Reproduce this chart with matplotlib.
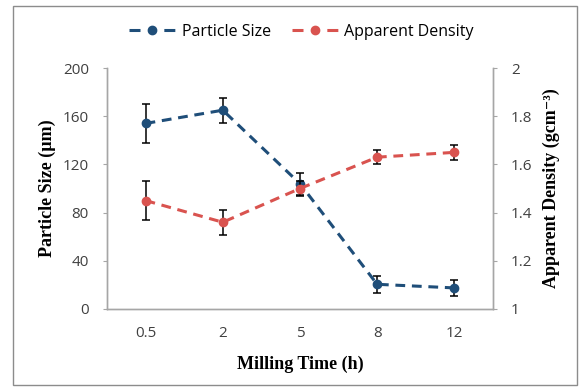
import matplotlib
matplotlib.use("Agg")
import matplotlib.pyplot as plt
from matplotlib.lines import Line2D
from matplotlib.patches import Rectangle

categories = ["0.5", "2", "5", "8", "12"]
particle_size = [154, 165, 104, 20.5, 17.5]
particle_err = [16, 10.5, 9, 7, 6.5]
density = [1.45, 1.36, 1.50, 1.63, 1.65]
density_err = [0.08, 0.052, 0.03, 0.03, 0.03]

blue = "#1F4E79"
red = "#D9534F"
axis_gray = "#A6A6A6"
sans = ["Open Sans", "DejaVu Sans"]
serif = ["Liberation Serif", "DejaVu Serif"]

fig = plt.figure(figsize=(5.83, 3.90), dpi=100)
fig.patches.append(Rectangle((0.022, 0.012), 0.968, 0.972, transform=fig.transFigure,
                             fill=False, edgecolor="#8C8C8C", linewidth=1.0))
ax = fig.add_axes([0.1835, 0.2077, 0.662, 0.6179])
ax2 = ax.twinx()

x = list(range(len(categories)))
ax.errorbar(x, particle_size, yerr=particle_err, color=blue, linestyle=(0, (3.2, 2.2)),
            linewidth=2.2, marker="o", markersize=6, ecolor="black", elinewidth=1.1,
            capsize=3, capthick=1.1, zorder=3)
ax2.errorbar(x, density, yerr=density_err, color=red, linestyle=(0, (3.2, 2.2)),
             linewidth=2.2, marker="o", markersize=6, ecolor="black", elinewidth=1.1,
             capsize=3, capthick=1.1, zorder=3)

ax.set_xlim(-0.5, len(categories) - 0.5)
ax.set_ylim(0, 200)
ax2.set_ylim(1, 2)
ax.set_xticks(x)
ax.set_xticklabels(categories)
ax.set_yticks([0, 40, 80, 120, 160, 200])
ax2.set_yticks([1, 1.2, 1.4, 1.6, 1.8, 2])
ax2.set_yticklabels(["1", "1.2", "1.4", "1.6", "1.8", "2"])

for a in (ax, ax2):
    a.spines["top"].set_visible(False)
    for s in ("left", "right", "bottom"):
        a.spines[s].set_color(axis_gray)
        a.spines[s].set_linewidth(1.0)
    a.tick_params(colors=axis_gray, labelcolor="#404040", labelsize=11, length=3, width=0.8)
    for lab in a.get_yticklabels() + a.get_xticklabels():
        lab.set_family(sans)
ax.tick_params(axis="x", length=0, pad=12)
ax.tick_params(axis="y", pad=10)
ax2.tick_params(axis="y", pad=10)

ax.set_xlabel("Milling Time (h)", fontfamily=serif, fontweight="bold", fontsize=13, labelpad=11)
ax.set_ylabel("Particle Size (µm)", fontfamily=serif, fontweight="bold", fontsize=13, labelpad=5)
ax2.set_ylabel("Apparent Density (gcm⁻³)", fontfamily=serif, fontweight="bold", fontsize=13,
               labelpad=7)

leg_ls = (0, (3.6, 7.8))
handles = [Line2D([], [], color=blue, linestyle=leg_ls, linewidth=2.2, marker="o", markersize=6),
           Line2D([], [], color=red, linestyle=leg_ls, linewidth=2.2, marker="o", markersize=6)]
fig.legend(handles, ["Particle Size", "Apparent Density"], loc="center", bbox_to_anchor=(0.517, 0.918),
           ncol=2, frameon=False, prop={"family": sans, "size": 11.5}, handlelength=2.9,
           columnspacing=1.3, handletextpad=0.4)

fig.savefig("out.png", dpi=100)
